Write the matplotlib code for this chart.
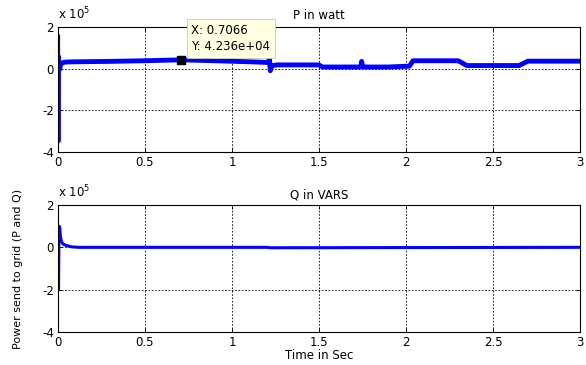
import matplotlib
matplotlib.use("Agg")
import matplotlib.pyplot as plt
import numpy as np

plt.rcParams['font.family'] = ['DejaVu Sans']

# P in watt (breakpoints)
p_time = [0.0, 0.004, 0.006, 0.008, 0.011, 0.016, 0.021, 0.030, 0.05, 0.1, 0.3, 0.5,
          0.7066, 0.9, 1.1, 1.2, 1.21, 1.215, 1.22, 1.23, 1.26, 1.3, 1.5, 1.52, 1.74,
          1.745, 1.75, 1.755, 1.9, 1.95, 2.02, 2.04, 2.3, 2.35, 2.65, 2.7, 3.0]
p_watt = [0.0, 1.6e5, -3.5e5, 0.6e5, 0.1e5, -0.05e5, 0.25e5, 0.3e5, 0.32e5, 0.33e5, 0.35e5,
          0.38e5, 0.4236e5, 0.38e5, 0.33e5, 0.3e5, 0.3e5, 0.5e5, -0.1e5, 0.15e5, 0.18e5,
          0.18e5, 0.18e5, 0.08e5, 0.08e5, 0.35e5, 0.1e5, 0.08e5, 0.08e5, 0.1e5, 0.12e5,
          0.38e5, 0.38e5, 0.15e5, 0.15e5, 0.36e5, 0.36e5]

# Q in VARS
q_time = [0.0, 0.004, 0.006, 0.008, 0.010, 0.014, 0.02, 0.03, 0.05, 0.08, 0.12, 1.2, 1.22, 3.0]
q_vars = [0.0, -2.0e5, 0.4e5, 1.0e5, 0.9e5, 0.5e5, 0.25e5, 0.15e5, 0.08e5, 0.02e5, 0.0, 0.0, -0.02e5, 0.0]

tip_x, tip_y = 0.7066, 4.236e4

x_ticks = [0, 0.5, 1, 1.5, 2, 2.5, 3]
x_tick_labels = ['0', '0.5', '1', '1.5', '2', '2.5', '3']
y_ticks = [-4, -2, 0, 2]
scale = 1e5
FS = 8.5

fig = plt.figure(figsize=(5.86, 3.65), dpi=100)
ax1 = fig.add_axes([58/586, 1-152/365, (580-58)/586, (152-27)/365])
ax2 = fig.add_axes([58/586, 1-332/365, (580-58)/586, (332-205)/365])

def style(ax, title, tpad):
    ax.set_xlim(0, 3)
    ax.set_ylim(-4, 2)
    ax.set_xticks(x_ticks)
    ax.set_xticklabels(x_tick_labels)
    ax.set_yticks(y_ticks)
    ax.set_yticklabels([str(v) for v in y_ticks])
    ax.tick_params(labelsize=FS, direction='in', length=3, width=0.6, pad=3, top=True, right=True)
    ax.grid(True, color='black', linestyle=(0, (2, 2)), linewidth=0.6)
    for s in ax.spines.values():
        s.set_linewidth(0.8)
    ax.set_title(title, fontsize=FS, pad=tpad)
    ax.text(0.0, 1.035, r'x 10$^5$', transform=ax.transAxes, fontsize=FS, ha='left', va='bottom')

def split_plot(ax, t, v, n_thin, lw_thin, lw_thick):
    t = np.array(t)
    v = np.array(v) / scale
    ax.plot(t[:n_thin + 1], v[:n_thin + 1], color='#0000ff', linewidth=lw_thin)
    ax.plot(t[n_thin:], v[n_thin:], color='#0000ff', linewidth=lw_thick)

split_plot(ax1, p_time, p_watt, 6, 2.0, 3.5)
style(ax1, 'P in watt', 6)
ax1.plot([tip_x], [tip_y / scale], marker='s', color='black', markersize=6)
ax1.annotate('X: 0.7066\nY: 4.236e+04', xy=(tip_x, tip_y / scale), xytext=(tip_x + 0.06, 1.45),
             fontsize=FS, ha='left', va='center', linespacing=1.35,
             bbox=dict(boxstyle='square,pad=0.4', fc='#ffffe1', ec='#c8c8b4', lw=0.6))

split_plot(ax2, q_time, q_vars, 4, 2.0, 2.2)
style(ax2, 'Q in VARS', 5)
ax2.set_ylabel('Power send to grid (P and Q)', fontsize=FS - 0.5, labelpad=14)
ax2.set_xlabel('Time in Sec', fontsize=FS, labelpad=0)

fig.savefig('out.png', dpi=100)
